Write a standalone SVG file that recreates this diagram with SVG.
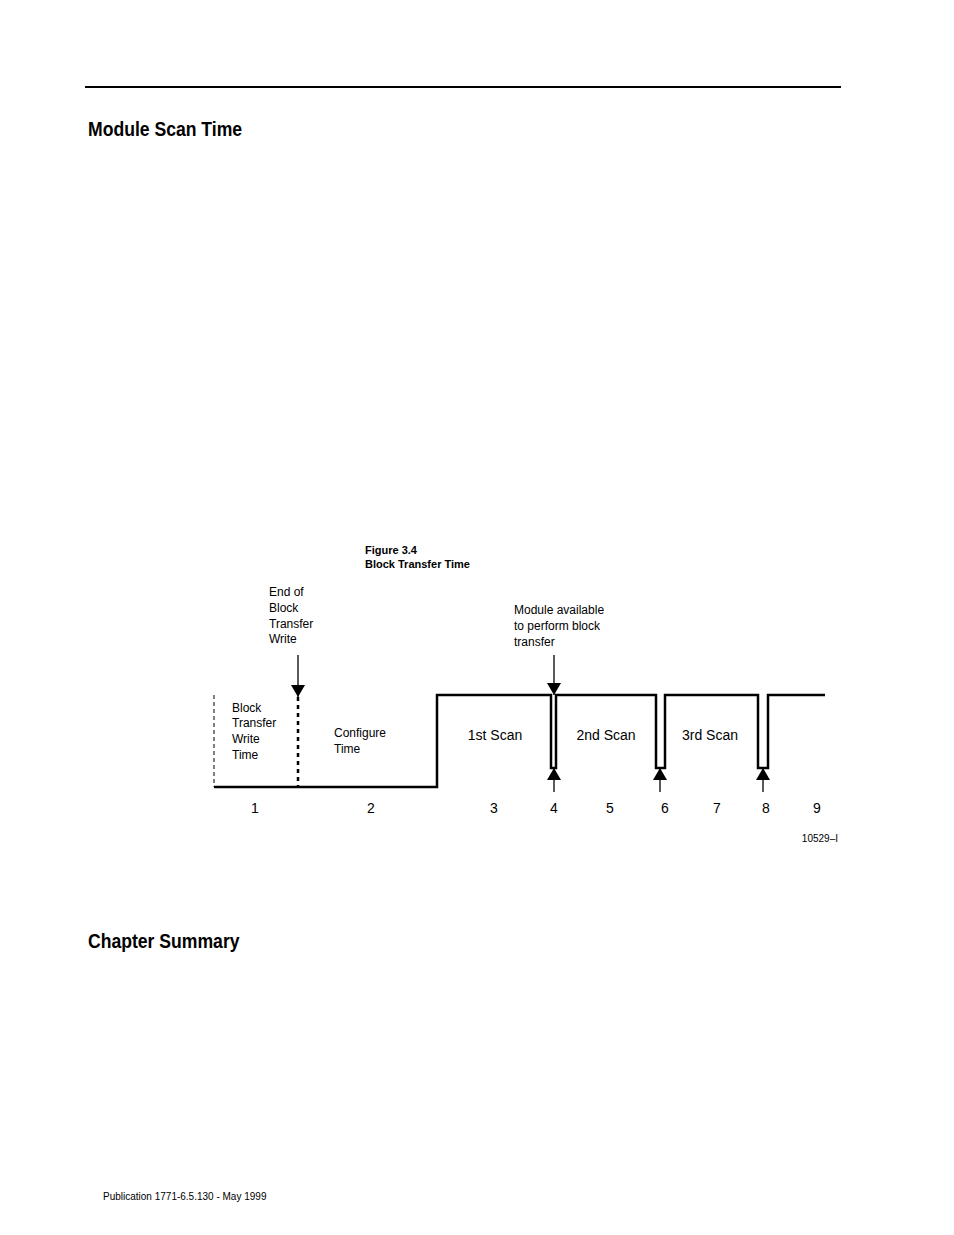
<svg xmlns="http://www.w3.org/2000/svg" width="954" height="1235" viewBox="0 0 954 1235">
<defs>
<marker id="arr" markerWidth="14" markerHeight="14" refX="12" refY="7" orient="auto" markerUnits="userSpaceOnUse"><path d="M0,0 L12,7 L0,14 Z" fill="#000"/></marker>
</defs>
<style>
text{font-family:"Liberation Sans",Arial,sans-serif;fill:#000}
.h{font-size:20px;font-weight:bold}
.s{font-size:12px}
.n{font-size:14px}
.w{fill:none;stroke:#000;stroke-width:2.5}
.a{stroke:#000;stroke-width:1.3;fill:none}
</style>
<rect width="954" height="1235" fill="#fff"/>
<line x1="85" y1="87" x2="841" y2="87" stroke="#000" stroke-width="2"/>
<text class="h" x="88" y="136" transform="translate(88 0) scale(0.88 1) translate(-88 0)">Module Scan Time</text>
<text class="h" x="88" y="948" transform="translate(88 0) scale(0.88 1) translate(-88 0)">Chapter Summary</text>
<text x="365" y="554" font-size="11" font-weight="bold">Figure 3.4</text>
<text x="365" y="568" font-size="11" font-weight="bold">Block Transfer Time</text>
<g id="waveform">
<path class="w" d="M214,787 H437 V695 H551 V768 H556 V695 H656 V768 H665 V695 H758 V768 H768 V695 H825"/>
<line x1="214" y1="695" x2="214" y2="787" stroke="#000" stroke-width="1" stroke-dasharray="4,3"/>
<line x1="298" y1="697" x2="298" y2="787" stroke="#000" stroke-width="2.5" stroke-dasharray="4,4"/>
</g>
<g id="connectors">
<line class="a" x1="298" y1="655" x2="298" y2="697" marker-end="url(#arr)"/>
<line class="a" x1="554" y1="655" x2="554" y2="695" marker-end="url(#arr)"/>
<line class="a" x1="554" y1="792" x2="554" y2="768" marker-end="url(#arr)"/>
<line class="a" x1="660" y1="792" x2="660" y2="768" marker-end="url(#arr)"/>
<line class="a" x1="763" y1="792" x2="763" y2="768" marker-end="url(#arr)"/>
</g>
<g id="labels">
<text class="s" x="269" y="596">End of</text>
<text class="s" x="269" y="612">Block</text>
<text class="s" x="269" y="628">Transfer</text>
<text class="s" x="269" y="643">Write</text>
<text class="s" x="514" y="614">Module available</text>
<text class="s" x="514" y="630">to perform block</text>
<text class="s" x="514" y="646">transfer</text>
<text class="s" x="232" y="712">Block</text>
<text class="s" x="232" y="727">Transfer</text>
<text class="s" x="232" y="743">Write</text>
<text class="s" x="232" y="759">Time</text>
<text class="s" x="334" y="737">Configure</text>
<text class="s" x="334" y="753">Time</text>
<text class="n" x="495" y="740" text-anchor="middle">1st Scan</text>
<text class="n" x="606" y="740" text-anchor="middle">2nd Scan</text>
<text class="n" x="710" y="740" text-anchor="middle">3rd Scan</text>
<text class="n" x="255" y="813" text-anchor="middle">1</text>
<text class="n" x="371" y="813" text-anchor="middle">2</text>
<text class="n" x="494" y="813" text-anchor="middle">3</text>
<text class="n" x="554" y="813" text-anchor="middle">4</text>
<text class="n" x="610" y="813" text-anchor="middle">5</text>
<text class="n" x="665" y="813" text-anchor="middle">6</text>
<text class="n" x="717" y="813" text-anchor="middle">7</text>
<text class="n" x="766" y="813" text-anchor="middle">8</text>
<text class="n" x="817" y="813" text-anchor="middle">9</text>
<text x="838" y="842" font-size="10" text-anchor="end">10529–I</text>
</g>
<text x="103" y="1200" font-size="10">Publication 1771-6.5.130 - May 1999</text>
</svg>
